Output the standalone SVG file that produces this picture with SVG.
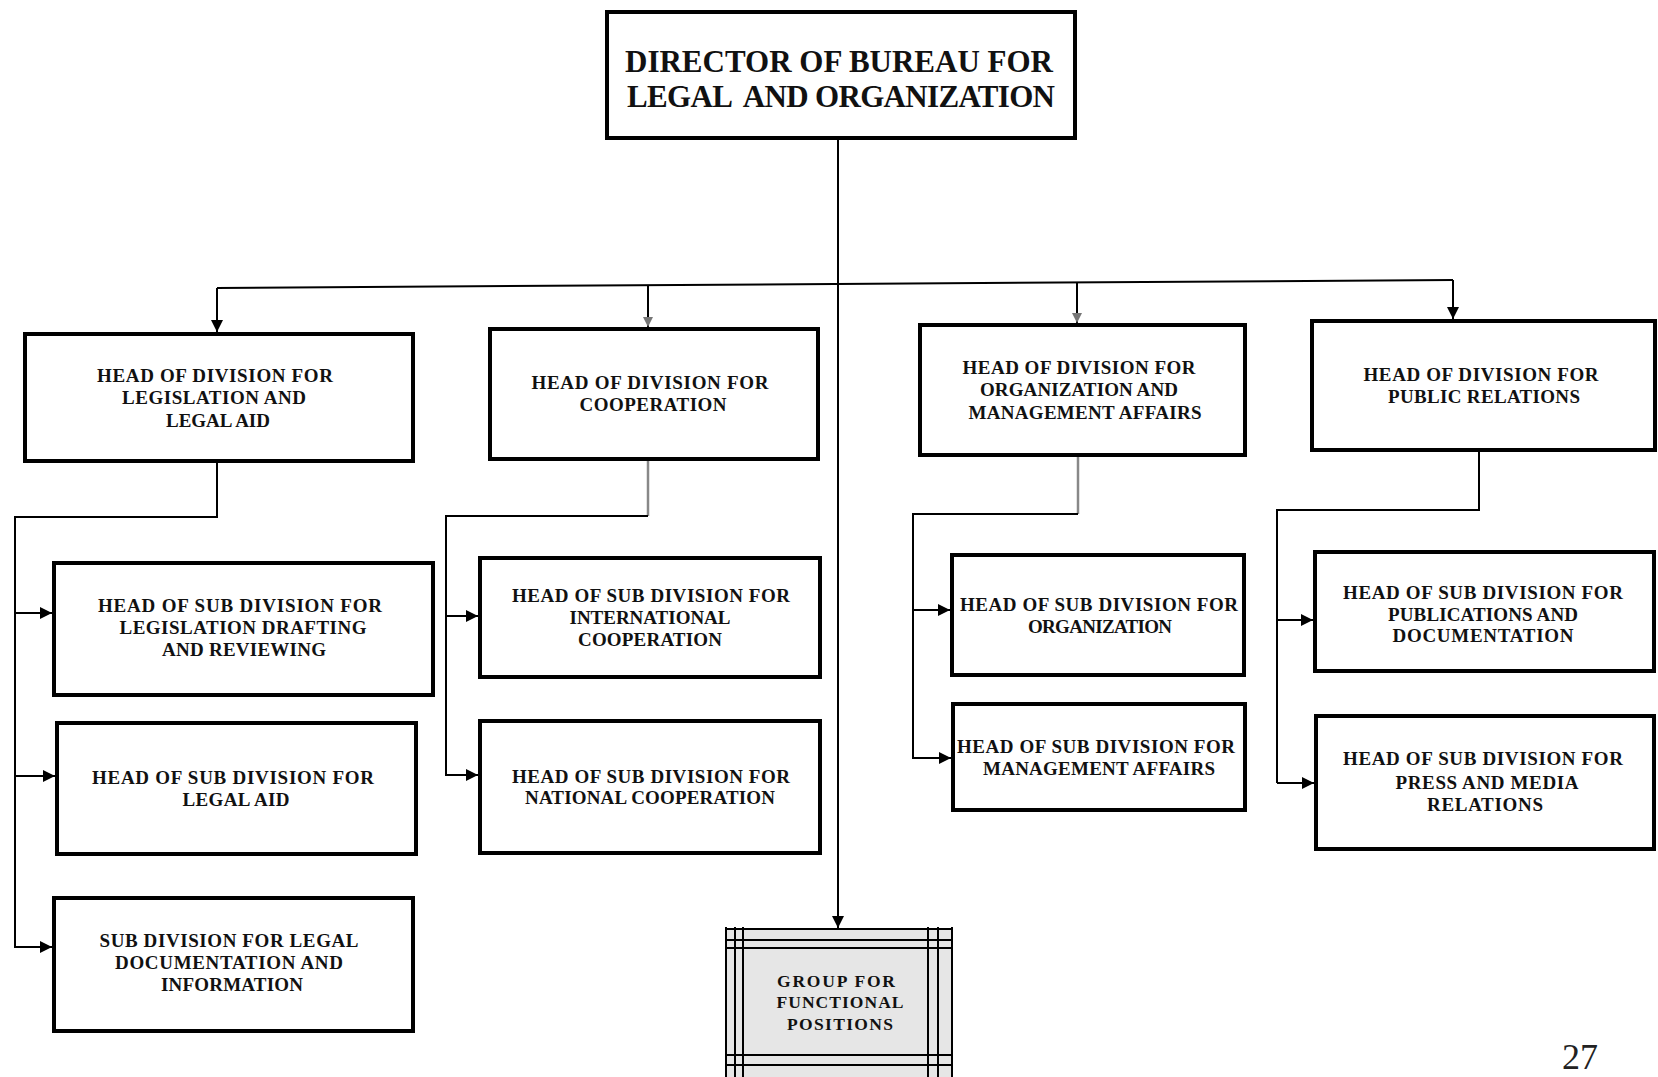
<svg xmlns="http://www.w3.org/2000/svg" width="1658" height="1077" viewBox="0 0 1658 1077">
<defs>
<style>
.box{fill:#fff;stroke:#000;stroke-width:4}
.t{font-family:"Liberation Serif","DejaVu Serif",serif;font-weight:bold;font-size:19px;fill:#111;text-anchor:middle;white-space:pre}
.tt{font-size:31px}
.tg{font-size:17.5px}
.c{fill:none;stroke:#000;stroke-width:2}
.cg{fill:none;stroke:#888;stroke-width:2.5}
.gl{stroke:#000;stroke-width:2}
</style>
<marker id="ar" viewBox="0 0 10 10" refX="10" refY="5" markerUnits="userSpaceOnUse" markerWidth="14" markerHeight="12" orient="auto">
<path d="M0,0 L10,5 L0,10 z" fill="#000"/>
</marker>
<marker id="arg" viewBox="0 0 10 10" refX="10" refY="5" markerUnits="userSpaceOnUse" markerWidth="12" markerHeight="10" orient="auto">
<path d="M0,0 L10,5 L0,10 z" fill="#777"/>
</marker>
</defs>
<rect width="1658" height="1077" fill="#fff"/>

<g id="connectors">
<path class="c" d="M838,140 V928" marker-end="url(#ar)"/>
<path class="c" d="M217,288 L1453,280"/>
<path class="c" d="M217,288 V332" marker-end="url(#ar)"/>
<path class="c" d="M648,285 V327" marker-end="url(#arg)"/>
<path class="c" d="M1077,282 V323" marker-end="url(#arg)"/>
<path class="c" d="M1453,280 V319" marker-end="url(#ar)"/>
<path class="c" d="M217,463 V517 H15 V948"/>
<path class="c" d="M15,613 H52" marker-end="url(#ar)"/>
<path class="c" d="M15,776 H55" marker-end="url(#ar)"/>
<path class="c" d="M15,947 H52" marker-end="url(#ar)"/>
<path class="cg" d="M648,461 V516"/>
<path class="c" d="M648,516 H446 V776"/>
<path class="c" d="M446,616 H478" marker-end="url(#ar)"/>
<path class="c" d="M446,775 H478" marker-end="url(#ar)"/>
<path class="cg" d="M1078,457 V514"/>
<path class="c" d="M1078,514 H913 V759"/>
<path class="c" d="M913,610 H950" marker-end="url(#ar)"/>
<path class="c" d="M913,758 H951" marker-end="url(#ar)"/>
<path class="c" d="M1479,452 V510 H1277 V783"/>
<path class="c" d="M1277,620 H1313" marker-end="url(#ar)"/>
<path class="c" d="M1277,783 H1314" marker-end="url(#ar)"/>
</g>

<g id="director">
<rect class="box" x="607" y="12" width="468" height="126"/>
<text class="t tt" x="839" y="72" textLength="428">DIRECTOR OF BUREAU FOR</text>
<text class="t tt" x="841" y="107" textLength="428">LEGAL  AND ORGANIZATION</text>
</g>

<g id="div-legislation">
<rect class="box" x="25" y="334" width="388" height="127"/>
<text class="t" x="215" y="382" textLength="236">HEAD OF DIVISION FOR</text>
<text class="t" x="214" y="404" textLength="184">LEGISLATION AND</text>
<text class="t" x="218" y="427" textLength="104">LEGAL AID</text>
</g>

<g id="div-cooperation">
<rect class="box" x="490" y="329" width="328" height="130"/>
<text class="t" x="650" y="389" textLength="237">HEAD OF DIVISION FOR</text>
<text class="t" x="653" y="411" textLength="147">COOPERATION</text>
</g>

<g id="div-organization">
<rect class="box" x="920" y="325" width="325" height="130"/>
<text class="t" x="1079" y="374" textLength="233">HEAD OF DIVISION FOR</text>
<text class="t" x="1079" y="396" textLength="198">ORGANIZATION AND</text>
<text class="t" x="1085" y="419" textLength="233">MANAGEMENT AFFAIRS</text>
</g>

<g id="div-public">
<rect class="box" x="1312" y="321" width="343" height="129"/>
<text class="t" x="1481" y="381" textLength="235">HEAD OF DIVISION FOR</text>
<text class="t" x="1484" y="403" textLength="192">PUBLIC RELATIONS</text>
</g>

<g id="sub-drafting">
<rect class="box" x="54" y="563" width="379" height="132"/>
<text class="t" x="240" y="612" textLength="284">HEAD OF SUB DIVISION FOR</text>
<text class="t" x="243" y="634" textLength="247">LEGISLATION DRAFTING</text>
<text class="t" x="244" y="656" textLength="164">AND REVIEWING</text>
</g>

<g id="sub-legal-aid">
<rect class="box" x="57" y="723" width="359" height="131"/>
<text class="t" x="233" y="784" textLength="282">HEAD OF SUB DIVISION FOR</text>
<text class="t" x="236" y="806" textLength="107">LEGAL AID</text>
</g>

<g id="sub-documentation">
<rect class="box" x="54" y="898" width="359" height="133"/>
<text class="t" x="229" y="947" textLength="259">SUB DIVISION FOR LEGAL</text>
<text class="t" x="229" y="969" textLength="228">DOCUMENTATION AND</text>
<text class="t" x="232" y="991" textLength="142">INFORMATION</text>
</g>

<g id="sub-international">
<rect class="box" x="480" y="558" width="340" height="119"/>
<text class="t" x="651" y="602" textLength="278">HEAD OF SUB DIVISION FOR</text>
<text class="t" x="650" y="624" textLength="161">INTERNATIONAL</text>
<text class="t" x="650" y="646" textLength="144">COOPERATION</text>
</g>

<g id="sub-national">
<rect class="box" x="480" y="721" width="340" height="132"/>
<text class="t" x="651" y="783" textLength="278">HEAD OF SUB DIVISION FOR</text>
<text class="t" x="650" y="804" textLength="250">NATIONAL COOPERATION</text>
</g>

<g id="sub-organization">
<rect class="box" x="952" y="555" width="292" height="120"/>
<text class="t" x="1099" y="611" textLength="278">HEAD OF SUB DIVISION FOR</text>
<text class="t" x="1100" y="633" textLength="144">ORGANIZATION</text>
</g>

<g id="sub-management">
<rect class="box" x="953" y="704" width="292" height="106"/>
<text class="t" x="1096" y="753" textLength="278">HEAD OF SUB DIVISION FOR</text>
<text class="t" x="1099" y="775" textLength="232">MANAGEMENT AFFAIRS</text>
</g>

<g id="sub-publications">
<rect class="box" x="1315" y="552" width="339" height="119"/>
<text class="t" x="1483" y="599" textLength="280">HEAD OF SUB DIVISION FOR</text>
<text class="t" x="1483" y="621" textLength="190">PUBLICATIONS AND</text>
<text class="t" x="1483" y="642" textLength="181">DOCUMENTATION</text>
</g>

<g id="sub-press">
<rect class="box" x="1316" y="716" width="338" height="133"/>
<text class="t" x="1483" y="765" textLength="280">HEAD OF SUB DIVISION FOR</text>
<text class="t" x="1487" y="789" textLength="183">PRESS AND MEDIA</text>
<text class="t" x="1485" y="811" textLength="116">RELATIONS</text>
</g>

<g id="group-functional">
<rect x="726" y="929" width="226" height="150" fill="#e6e6e6"/>
<line class="gl" x1="726" y1="927" x2="726" y2="1077"/>
<line class="gl" x1="735" y1="927" x2="735" y2="1077" stroke-width="1.5"/>
<line class="gl" x1="743" y1="927" x2="743" y2="1077"/>
<line class="gl" x1="928" y1="927" x2="928" y2="1077"/>
<line class="gl" x1="938" y1="927" x2="938" y2="1077" stroke-width="2.5"/>
<line class="gl" x1="952" y1="927" x2="952" y2="1077" stroke-width="1.5"/>
<line class="gl" x1="726" y1="929" x2="952" y2="929"/>
<line class="gl" x1="726" y1="940" x2="952" y2="940" stroke-width="1.5"/>
<line class="gl" x1="726" y1="948" x2="952" y2="948"/>
<line class="gl" x1="726" y1="1055" x2="952" y2="1055"/>
<line class="gl" x1="726" y1="1065" x2="952" y2="1065" stroke-width="1.5"/>
<text class="t tg" x="836" y="987" textLength="118">GROUP FOR</text>
<text class="t tg" x="840" y="1008" textLength="127">FUNCTIONAL</text>
<text class="t tg" x="840" y="1030" textLength="106">POSITIONS</text>
</g>

<text x="1580" y="1069" font-family="Liberation Serif, serif" font-size="36" text-anchor="middle" fill="#222">27</text>
</svg>
